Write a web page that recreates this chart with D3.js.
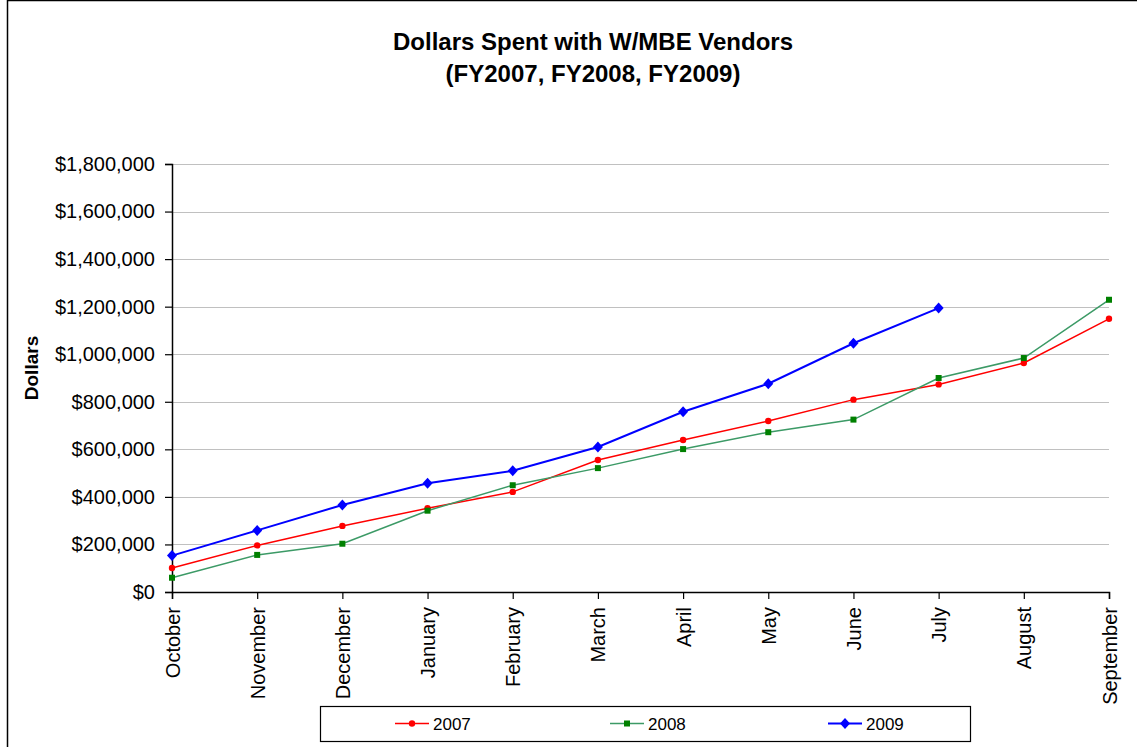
<!DOCTYPE html>
<html>
<head>
<meta charset="utf-8">
<script src="https://cdn.jsdelivr.net/npm/d3@7"></script>
<style>
  html, body { margin: 0; padding: 0; background: #fff; }
  svg { display: block; font-family: "Liberation Sans", Arial, sans-serif; }
</style>
</head>
<body>
<svg id="chart" width="1137" height="747"></svg>
<script>
// Fiscal-year months, October through September
const months = ["October","November","December","January","February","March",
                "April","May","June","July","August","September"];

// Cumulative dollars spent with W/MBE vendors
const fy2007 = [101000,196000,278000,352000,421000,555000,639000,719000,809000,873000,963000,1149000];
const fy2008 = [60000,156000,203000,342000,449000,521000,601000,672000,725000,900000,984000,1229000];
const fy2009 = [153000,259000,366000,457000,510000,610000,758000,876000,1046000,1194000];

const yTicks = [0,200000,400000,600000,800000,1000000,1200000,1400000,1600000,1800000];

const seriesNames = ["2007","2008","2009"];

const series = [
  { name: seriesNames[0], values: fy2007, line: "#ff0000", fill: "#ff0000", marker: "circle",  width: 1.5 },
  { name: seriesNames[1], values: fy2008, line: "#3c9a66", fill: "#008000", marker: "square",  width: 1.5 },
  { name: seriesNames[2], values: fy2009, line: "#0000ff", fill: "#0000ff", marker: "diamond", width: 2 }
];

const svg = d3.select("#chart");

// Outer chart frame
svg.append("rect")
  .attr("x", 7.5).attr("y", 0.5)
  .attr("width", 1140).attr("height", 760)
  .attr("fill", "none").attr("stroke", "#000").attr("stroke-width", 1.5);

const plot = { left: 172, right: 1109, top: 164, bottom: 592 };

const x = d3.scalePoint().domain(months).range([plot.left, plot.right]);
const y = d3.scaleLinear().domain([0, 1800000]).range([plot.bottom, plot.top]);

// Title
const title = svg.append("text")
  .attr("text-anchor", "middle")
  .attr("font-weight", "bold")
  .attr("font-size", 24)
  .attr("fill", "#000");
title.append("tspan").attr("x", 593).attr("y", 50).text("Dollars Spent with W/MBE Vendors");
title.append("tspan").attr("x", 593).attr("y", 82).text("(FY2007, FY2008, FY2009)");

// Horizontal gridlines
svg.append("g")
  .selectAll("line")
  .data(yTicks.filter(d => d > 0))
  .join("line")
  .attr("x1", plot.left).attr("x2", plot.right)
  .attr("y1", d => Math.round(y(d)) + 0.5).attr("y2", d => Math.round(y(d)) + 0.5)
  .attr("stroke", "#c0c0c0").attr("stroke-width", 1);

// Y axis
const fmt = d3.format("$,.0f");
const yAxis = svg.append("g")
  .attr("transform", `translate(${plot.left},0)`)
  .call(d3.axisLeft(y).tickValues(yTicks).tickFormat(fmt).tickSize(7).tickPadding(10));
yAxis.select(".domain").attr("stroke", "#000").attr("stroke-width", 1.5);
yAxis.selectAll(".tick line").attr("stroke", "#000").attr("stroke-width", 1.2);
yAxis.selectAll(".tick text")
  .attr("font-size", 20).attr("fill", "#000")
  .style("font-family", "'Liberation Sans', Arial, sans-serif");

// X axis
const xAxis = svg.append("g")
  .attr("transform", `translate(0,${plot.bottom})`)
  .call(d3.axisBottom(x).tickSize(7).tickPadding(8));
xAxis.select(".domain").attr("stroke", "#000").attr("stroke-width", 1.5);
xAxis.selectAll(".tick line").attr("stroke", "#000").attr("stroke-width", 1.2);
xAxis.selectAll(".tick text")
  .attr("font-size", 20).attr("fill", "#000")
  .style("font-family", "'Liberation Sans', Arial, sans-serif")
  .attr("text-anchor", "end")
  .attr("dy", "0.35em")
  .attr("transform", "translate(0,15) rotate(-90)")
  .attr("x", 0).attr("y", 0);

// Y axis title
svg.append("text")
  .attr("transform", `translate(38,${(plot.top + plot.bottom) / 2 - 10}) rotate(-90)`)
  .attr("text-anchor", "middle")
  .attr("font-weight", "bold")
  .attr("font-size", 19)
  .attr("fill", "#000")
  .text("Dollars");

// Marker drawing helper
function drawMarker(sel, type, fill) {
  if (type === "circle") {
    sel.append("circle").attr("r", 3.2).attr("fill", fill);
  } else if (type === "square") {
    sel.append("rect").attr("x", -3).attr("y", -3).attr("width", 6).attr("height", 6).attr("fill", fill);
  } else {
    sel.append("path").attr("d", "M0,-5.5L5,0L0,5.5L-5,0Z").attr("fill", fill);
  }
}

const line = d3.line()
  .x((d, i) => x(months[i]))
  .y(d => y(d));

// Series lines and markers
series.forEach(s => {
  svg.append("path")
    .datum(s.values)
    .attr("d", line)
    .attr("fill", "none")
    .attr("stroke", s.line)
    .attr("stroke-width", s.width);
  const g = svg.append("g");
  s.values.forEach((v, i) => {
    const m = g.append("g").attr("transform", `translate(${x(months[i])},${y(v)})`);
    drawMarker(m, s.marker, s.fill);
  });
});

// Legend
const legend = svg.append("g");
legend.append("rect")
  .attr("x", 320.5).attr("y", 706.5).attr("width", 650).attr("height", 35)
  .attr("fill", "#fff").attr("stroke", "#000").attr("stroke-width", 1.2);

const legendX = [395, 610, 828];
series.forEach((s, i) => {
  const lg = legend.append("g").attr("transform", `translate(${legendX[i]},723.5)`);
  lg.append("line").attr("x1", 0).attr("x2", 34).attr("y1", 0).attr("y2", 0)
    .attr("stroke", s.line).attr("stroke-width", s.width);
  const mk = lg.append("g").attr("transform", "translate(17,0)");
  drawMarker(mk, s.marker, s.fill);
  lg.append("text").attr("x", 38).attr("y", 6)
    .attr("font-size", 17).attr("fill", "#000")
    .text(s.name);
});
</script>
</body>
</html>
